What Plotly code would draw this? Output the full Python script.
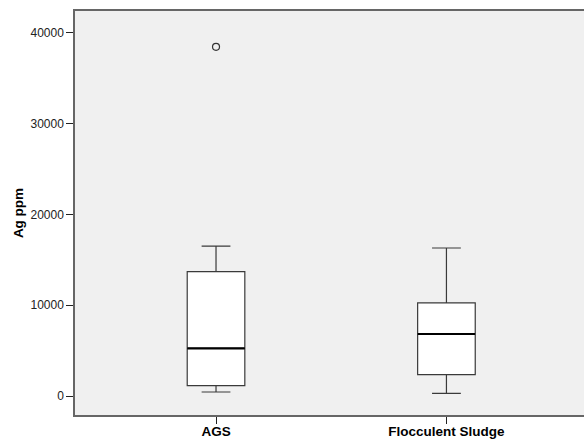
import plotly.graph_objects as go

categories = ["AGS", "Flocculent Sludge"]
q1 = [1150, 2350]
median = [5250, 6830]
q3 = [13700, 10250]
lower_whisker = [440, 300]
upper_whisker = [16500, 16300]
outlier_cat = ["AGS"]
outlier_val = [38450]

y_ticks = [0, 10000, 20000, 30000, 40000]

fig = go.Figure()
fig.add_trace(go.Box(
    x=categories, q1=q1, median=median, q3=q3,
    lowerfence=lower_whisker, upperfence=upper_whisker,
    fillcolor="white", line=dict(color="#3a3a3a", width=1.2),
    whiskerwidth=0.5, width=0.25, boxpoints=False, showlegend=False,
    hoverinfo="skip",
))
# thicker median line (line-ew length = 1.4 * size)
fig.add_trace(go.Scatter(
    x=categories, y=median, mode="markers",
    marker=dict(symbol="line-ew-open", size=41, color="black",
                line=dict(color="black", width=2.2)),
    showlegend=False, hoverinfo="skip",
))
fig.add_trace(go.Scatter(
    x=outlier_cat, y=outlier_val, mode="markers",
    marker=dict(symbol="circle-open", size=7, color="#333333", line=dict(width=1.2)),
    showlegend=False, hoverinfo="skip",
))

fig.update_layout(
    width=584, height=441,
    margin=dict(l=75, r=0, t=11, b=26),
    paper_bgcolor="white", plot_bgcolor="#f0f0f0",
    font=dict(family="Liberation Sans, Arial, sans-serif", color="#222222"),
    xaxis=dict(
        type="category", categoryarray=categories, range=[-0.612, 1.597],
        showgrid=False, zeroline=False, showline=True, linecolor="#666666", linewidth=1.5,
        mirror=True, ticks="outside", ticklen=7, tickcolor="#222222", tickwidth=1,
        tickfont=dict(size=13.5, weight="bold", color="black"),
        ticklabelstandoff=-4,
        automargin=False,
    ),
    yaxis=dict(
        range=[-2092, 42400], tickvals=y_ticks, ticktext=[str(v) for v in y_ticks],
        showgrid=False, zeroline=False, showline=True, linecolor="#666666", linewidth=1.5,
        mirror=False,
        ticks="outside", ticklen=7, tickcolor="#222222", tickwidth=1,
        tickfont=dict(size=12, color="#222222"),
        title=dict(text="Ag ppm", font=dict(size=13.5, weight="bold", color="black"), standoff=4),
        automargin=False,
    ),
)
fig.write_html("out.html")
